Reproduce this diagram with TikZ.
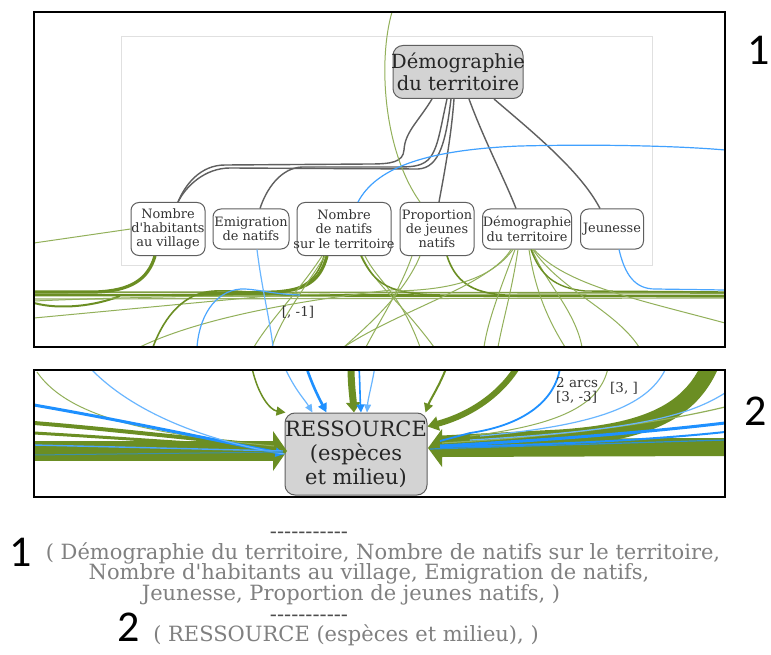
\documentclass[tikz,border=0pt]{standalone}
\usepackage{fontspec}
\setmainfont{DejaVu Serif}
\newfontfamily\cnd{DejaVu Serif}
\newfontfamily\carl{Carlito}
\usetikzlibrary{arrows.meta}
\definecolor{og}{RGB}{107,142,35}
\definecolor{lg}{RGB}{146,176,90}
\definecolor{db}{RGB}{30,144,255}
\definecolor{lb}{RGB}{105,182,255}
\definecolor{edgegray}{RGB}{95,95,95}
\definecolor{nodegray}{RGB}{211,211,211}
\definecolor{txtgray}{RGB}{128,128,128}
\begin{document}
\begin{tikzpicture}[x=1pt,y=-1pt,
  bigbox/.style={draw=edgegray, fill=nodegray, rounded corners=10pt, line width=1pt, inner sep=0pt},
  smallbox/.style={draw=edgegray, fill=white, rounded corners=8pt, line width=1pt, inner sep=0pt},
  bigtxt/.style={inner sep=0pt, align=center, text=black!85, font=\cnd\fontsize{19.5}{22.5}\selectfont},
  smalltxt/.style={inner sep=0pt, align=center, text=black!80, font=\cnd\fontsize{12.9}{14.3}\selectfont},
  labtxt/.style={inner sep=0pt, align=left, text=black!80, font=\cnd\fontsize{13.5}{14}\selectfont},
  gedge/.style={draw=edgegray, line width=1.4pt},
  frame/.style={draw=black, line width=2pt},
  legend/.style={inner sep=0pt, text=txtgray, font=\cnd\fontsize{21}{21}\selectfont},
  dashline/.style={inner sep=0pt, text=black!70, text height=2pt, text depth=0pt, font=\cnd\fontsize{21}{21}\selectfont},
  bignum/.style={inner sep=0pt, text=black, font=\carl\fontsize{44}{44}\selectfont},
  thinG/.style={draw=lg, line width=1pt},
  medG/.style={draw=og, line width=2pt},
  thkG/.style={draw=og, line width=3.2pt},
  thinB/.style={draw=lb, line width=1.2pt},
  medB/.style={draw=db, line width=2pt},
]
\useasboundingbox (0,0) rectangle (771,655);
\fill[white] (0,0) rectangle (771,655);

% ---------------- panel 1 ----------------
\draw[draw=black!12, line width=1pt] (121,37) rectangle (652,265);

\node[bigbox, minimum width=130pt, minimum height=53pt] (top) at (458,72) {};
\node[smallbox, minimum width=74pt, minimum height=53pt] (hab) at (168,229) {};
\node[smallbox, minimum width=76pt, minimum height=40pt] (emi) at (251,229) {};
\node[smallbox, minimum width=94pt, minimum height=53pt] (nat) at (344,229) {};
\node[smallbox, minimum width=74pt, minimum height=53pt] (prop) at (437,229) {};
\node[smallbox, minimum width=89pt, minimum height=40pt] (demo) at (527,229) {};
\node[smallbox, minimum width=63pt, minimum height=40pt] (jeu) at (612,229) {};

\coordinate (f1) at (34,243);
\coordinate (f2) at (392,12);
\coordinate (f3) at (725,150);

\begin{scope}
\clip (34,12) rectangle (725,347);
% gray hierarchy edges
\draw[gedge] ([xshift=-26pt]top.south) .. controls (418,122) and (405,132) .. (404,150)
   .. controls (403,162) and (392,164) .. (370,164) -- (225,165)
   .. controls (200,165) and (185,185) .. ([xshift=10pt]hab.north);
\draw[gedge] ([xshift=-11pt]top.south) .. controls (440,130) and (438,150) .. (428,160)
   .. controls (420,167) and (410,167) .. (395,167) -- (302,167)
   .. controls (280,168) and (266,190) .. ([xshift=9pt]emi.north);
\draw[gedge] ([xshift=-7pt]top.south) .. controls (446,140) and (440,168) .. (418,169)
   -- (230,168) .. controls (205,168) and (186,186) .. ([xshift=10pt]hab.north);
\draw[gedge] ([xshift=-4pt]top.south) .. controls (451,140) and (443,180) .. ([xshift=2pt]prop.north);
\draw[gedge] ([xshift=11pt]top.south) .. controls (484,140) and (505,180) .. ([xshift=-11pt]demo.north);
\draw[gedge] ([xshift=36pt]top.south) .. controls (530,130) and (580,170) .. ([xshift=-12pt]jeu.north);

% green thin top curve & left line
\draw[thinG] (f2) .. controls (378,60) and (383,150) .. ([xshift=-17pt]prop.north);
\draw[thinG] (hab.west) -- (f1);
% blue top curve
\draw[thinB, draw=db!85] ([xshift=14pt]nat.north) .. controls (375,170) and (420,150) .. (520,146)
   .. controls (600,144) and (680,146) .. (f3);

% band
\draw[og!70, line width=1.2pt] (34,299) -- (725,298);
\draw[og, line width=2.6pt] (34,295) -- (725,296);
\draw[og!85, line width=1.6pt] (34,292) -- (725,293);

% left side
\draw[thkG] ([xshift=-13pt]hab.south) .. controls (148,280) and (130,291) .. (95,292) -- (34,292);
\draw[medG] (34,303) .. controls (60,310) and (95,306) .. (120,296);
\draw[thinG] (34,318) -- (300,293);
\draw[thinG] (34,301) .. controls (150,296) and (250,296) .. (330,294);
\draw[thinG] (140,347) .. controls (200,318) and (300,300) .. (400,289);
\draw[medG, line width=1.6pt] (153,347) .. controls (165,315) and (185,292) .. (215,291) .. controls (240,290) and (260,294) .. (300,295);
\draw[thkG] ([xshift=-17pt]nat.south) .. controls (320,282) and (305,290) .. (275,292) -- (200,294);
\draw[medG, line width=1.6pt] ([xshift=-20pt]nat.south) .. controls (317,282) and (300,292) .. (265,294);
\draw[thinG] ([xshift=-22pt]nat.south) .. controls (300,290) and (270,320) .. (254,347);
\draw[thinG] ([xshift=-19pt]nat.south) .. controls (300,295) and (280,320) .. (272,347);
\draw[thinB, draw=db!80] (197,347) .. controls (200,310) and (220,288) .. (245,289) .. controls (262,290) and (272,294) .. (300,295);
\draw[thinB] ([xshift=6pt]emi.south) .. controls (262,290) and (270,320) .. (273,347);

% middle
\draw[thinG] ([xshift=18pt]nat.south) .. controls (375,285) and (395,295) .. (434,347);
\draw[thinG] ([xshift=21pt]nat.south) .. controls (378,282) and (400,292) .. (420,347);
\draw[medG, line width=1.5pt] ([xshift=17pt]nat.south) .. controls (375,285) and (390,294) .. (440,295);
\draw[thinG] ([xshift=-25pt]prop.south) .. controls (400,290) and (380,320) .. (366,347);
\draw[thinG] ([xshift=-17pt]prop.south) .. controls (405,292) and (372,322) .. (344,347);
\draw[medG, line width=1.6pt] ([xshift=10pt]prop.south) .. controls (455,280) and (470,293) .. (505,295);

% right side
\draw[thinG] ([xshift=-16pt]demo.south) .. controls (490,285) and (400,310) .. (344,347);
\draw[thinG] ([xshift=-14pt]demo.south) .. controls (490,280) and (450,290) .. (395,291);
\draw[thinG] ([xshift=-12pt]demo.south) .. controls (500,290) and (488,320) .. (484,347);
\draw[thinG] ([xshift=-9pt]demo.south) .. controls (512,290) and (503,320) .. (498,347);
\draw[thinG] ([xshift=2pt]demo.south) .. controls (535,290) and (548,320) .. (565,347);
\draw[thinG] ([xshift=5pt]demo.south) .. controls (545,282) and (575,310) .. (582,347);
\draw[medG, line width=1.4pt] ([xshift=4pt]demo.south) .. controls (540,275) and (555,288) .. (585,291) -- (725,292);
\draw[thinG] ([xshift=6pt]demo.south) .. controls (560,290) and (615,310) .. (639,347);
\draw[thinG] ([xshift=7pt]demo.south) .. controls (565,285) and (640,300) .. (725,323);
\draw[thinB, draw=db!80] ([xshift=7pt]jeu.south) .. controls (625,275) and (635,289) .. (655,289) -- (725,290);
\end{scope}

% node texts (on top)
\node[bigtxt] (topt) at (top) {Démographie\\du territoire};
\node[smalltxt] (habt) at (hab) {Nombre\\d'habitants\\au village};
\node[smalltxt] (emit) at (emi) {Emigration\\de natifs};
\node[smalltxt] (natt) at (nat) {Nombre\\de natifs\\sur le territoire};
\node[smalltxt] (propt) at (prop) {Proportion\\de jeunes\\natifs};
\node[smalltxt] (demot) at (demo) {Démographie\\du territoire};
\node[smalltxt] (jeut) at (jeu) {Jeunesse};
\node[labtxt] (lab1) at (298,312) {[, -1]};

\draw[frame] (34,12) rectangle (725,347);

% ---------------- panel 2 ----------------
\node[bigbox, minimum width=142pt, minimum height=82pt] (res) at (356,454) {};
\coordinate (L0) at (34,451);
\coordinate (R0) at (725,447);

\begin{scope}
\clip (34,370) rectangle (725,497);
% left band
\draw[og, line width=20pt] (L0) -- (274,451);
\fill[og] (273,431) -- (287,451) -- (273,471) -- cycle;
\draw[og, line width=4pt] (34,423) .. controls (120,430) and (200,440) .. (274,446);
\draw[og, line width=3pt] (34,433) .. controls (120,438) and (200,444) .. (274,448);
\draw[thinG] (37,372) .. controls (70,420) and (160,435) .. (274,446);
\draw[db, line width=3pt, -{Triangle[length=9pt,width=9pt]}] (34,405) .. controls (120,420) and (200,437) .. (res.west);
\draw[thinB] (90,368) .. controls (130,410) and (200,440) .. (res.west);
\draw[db!80, line width=1.4pt] (34,445) -- (283,451);
\draw[db!60!og, line width=1pt] (34,455) -- (283,452);
\draw[og, line width=1.5pt, -{Triangle[length=9pt,width=9pt]}] (252,368) .. controls (258,395) and (270,410) .. ([xshift=1pt]res.north west);
% top arrows
\draw[thinB, -{Triangle[length=8pt,width=7pt]}] (285,368) .. controls (295,390) and (305,400) .. ([xshift=28pt]res.north west);
\draw[medB, line width=2.6pt, -{Triangle[length=9pt,width=9pt]}] (306,366) .. controls (312,385) and (320,400) .. ([xshift=42pt]res.north west);
\draw[og, line width=7pt, -{Triangle[length=10pt,width=14pt]}] (351,366) .. controls (351,385) and (353,398) .. ([xshift=-2pt]res.north);
\draw[db, line width=1.6pt, -{Triangle[length=8pt,width=8pt]}] (359,366) .. controls (360,385) and (360,398) .. ([xshift=5pt]res.north);
\draw[thinB, -{Triangle[length=8pt,width=7pt]}] (375,366) .. controls (372,385) and (368,398) .. ([xshift=11pt]res.north);
\draw[og, line width=2pt, -{Triangle[length=9pt,width=9pt]}] (447,366) .. controls (440,385) and (430,400) .. ([xshift=-2pt]res.north east);
\draw[og, line width=6pt, -{Triangle[length=11pt,width=14pt]}] (518,366) .. controls (500,395) and (470,415) .. ([yshift=-14pt]res.north east);
% right side
\draw[og, line width=17pt] (710,366) .. controls (690,410) and (650,432) .. (560,438) -- (442,444);
\draw[og, line width=18pt] (R0) -- (442,448);
\fill[og] (442,429) -- (428,448) -- (442,467) -- cycle;
\draw[thinG, line width=1.2pt] (725,407) .. controls (650,425) and (550,437) .. (442,443);
\draw[thinB] (725,393) .. controls (690,415) and (640,430) .. (470,440);
\draw[thinB] (667,366) .. controls (650,405) and (600,425) .. (480,436);
\draw[thinG] (608,368) .. controls (600,405) and (560,425) .. (470,436);
\draw[db, line width=1.8pt] (560,368) .. controls (555,400) and (525,425) .. (470,433) -- (440,441);
\draw[db, line width=3pt] (725,423) .. controls (650,432) and (550,440) .. (440,446);
\draw[db, line width=2pt] (725,432) .. controls (650,440) and (550,445) .. (440,447);
\draw[db!80!og, line width=1.2pt] (725,440) -- (430,449);
\end{scope}

\node[bigtxt, font=\cnd\fontsize{21}{24}\selectfont] (rest) at (res) {RESSOURCE\\(espèces\\et milieu)};
\node[labtxt, anchor=west] (lab2) at (556,390) {2 arcs\\{}[3, -3]};
\node[labtxt, anchor=west] (lab3) at (610,388) {[3, ]};

\draw[frame] (34,370) rectangle (725,497);

% side numbers
\node[bignum] (n1) at (759,50) {1};
\node[bignum] (n2) at (756,411) {2};

% ---------------- legend ----------------
\node[dashline] (d1) at (309,537) {-----------};
\node[bignum] (n3) at (21,552) {1};
\node[legend] (l1) at (383,553) {( Démographie du territoire, Nombre de natifs sur le territoire,};
\node[legend] (l2) at (369,574) {Nombre d'habitants au village, Emigration de natifs,};
\node[legend] (l3) at (351,595) {Jeunesse, Proportion de jeunes natifs, )};
\node[dashline] (d2) at (309,620) {-----------};
\node[bignum] (n4) at (129,627) {2};
\node[legend] (l4) at (346,635) {( RESSOURCE (espèces et milieu), )};
\end{tikzpicture}
\end{document}
